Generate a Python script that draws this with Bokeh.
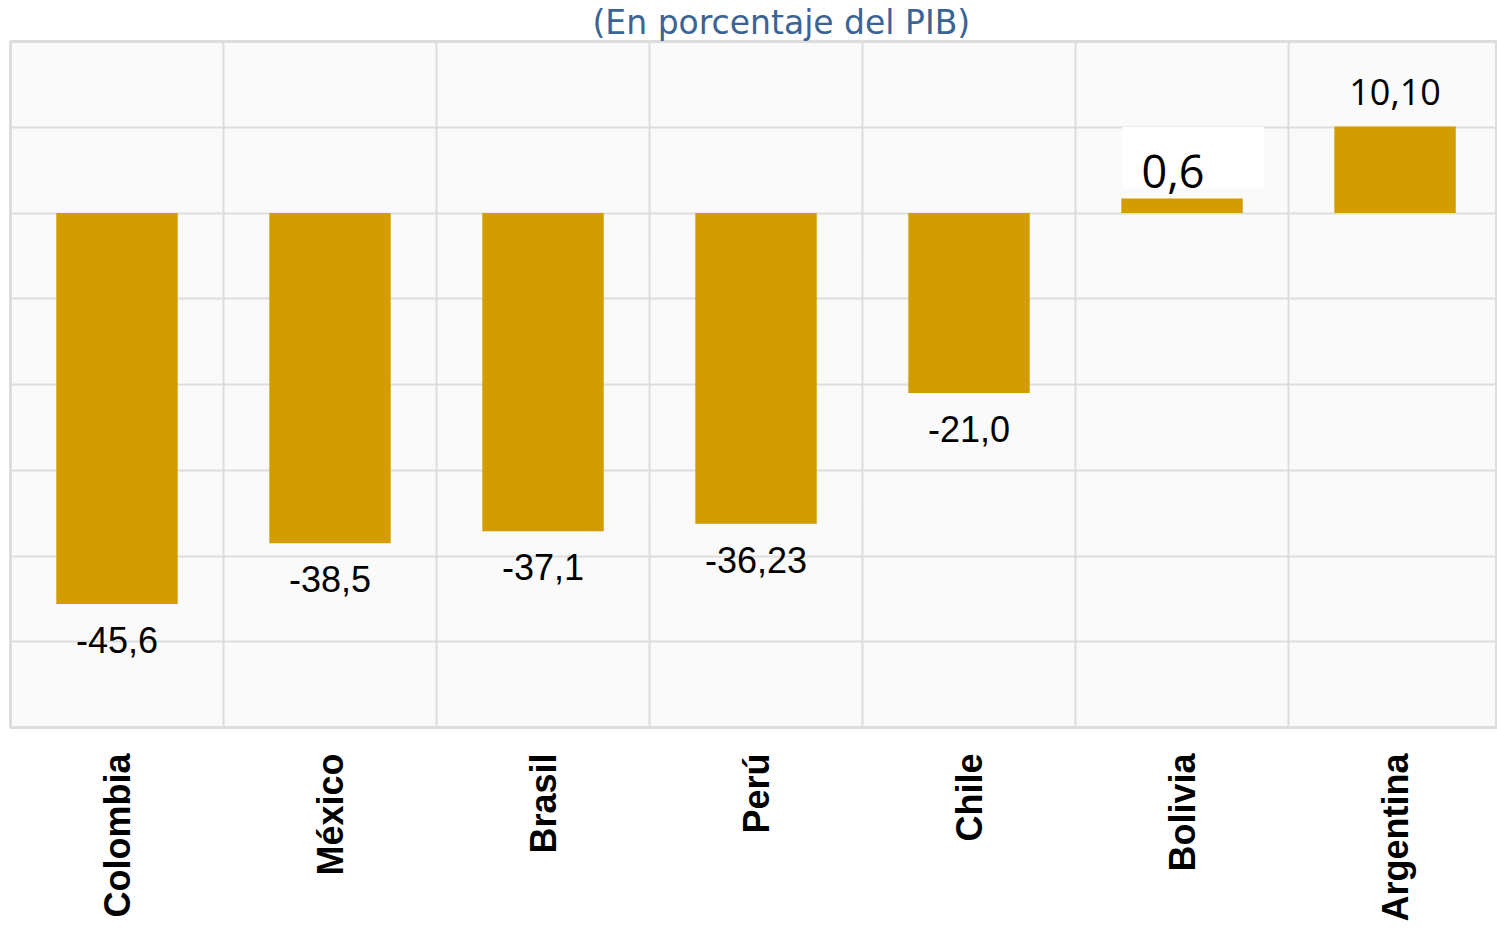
import math
import numpy as np
from bokeh.plotting import figure
from bokeh.models import ColumnDataSource, FixedTicker, Label, Range1d
from bokeh.core.properties import value
from bokeh.embed import file_html
from bokeh.resources import INLINE

# ---- data ----
countries = ["Colombia", "México", "Brasil", "Perú", "Chile", "Bolivia", "Argentina"]
values = [-45.6, -38.5, -37.1, -36.23, -21.0, 1.7, 10.10]
value_labels = ["-45,6", "-38,5", "-37,1", "-36,23", "-21,0", "0,6", "10,10"]
y_ticks = [-60, -50, -40, -30, -20, -10, 0, 10, 20]

title_text = "(En porcentaje del PIB)"
bar_color = "#d39c00"
grid_color = "#dddddd"

xc = [i + 0.5 for i in range(len(countries))]

p = figure(width=1497, height=924, output_backend="svg", toolbar_location=None,
           x_range=Range1d(0, 6.981), y_range=Range1d(-60, 20),
           min_border_left=10, min_border_right=0, min_border_top=5, min_border_bottom=0,
           background_fill_color="#fafafa", border_fill_color="white")

p.title.text = title_text
p.title.text_font = "DejaVu Sans"
p.title.text_font_size = "33px"
p.title.text_font_style = "normal"
p.title.text_color = "#3b6496"
p.title.align = "left"
p.title.offset = 582
p.title.standoff = 0

p.outline_line_color = grid_color
p.outline_line_width = 3

src = ColumnDataSource(dict(x=xc, top=values, lab=value_labels, name=countries))
p.vbar(x="x", top="top", bottom=0, width=0.57, source=src, fill_color=bar_color, line_color=None)

# negative value labels
neg_idx = [i for i, v in enumerate(values) if v < 0]
neg = ColumnDataSource(dict(x=[xc[i] for i in neg_idx], y=[values[i] for i in neg_idx],
                            lab=[value_labels[i] for i in neg_idx]))
p.text(x="x", y="y", text="lab", source=neg, text_align="center", text_baseline="middle",
       y_offset=36, text_font=value("Liberation Sans"), text_font_size="36px", text_color="black")

# Argentina label
ai = countries.index("Argentina")
p.add_layout(Label(x=xc[ai], y=values[ai], text=value_labels[ai], text_align="center",
                   text_baseline="middle", y_offset=34, text_font="Open Sans",
                   text_font_size="36px", text_color="black"))

# Bolivia label with white box
bi = countries.index("Bolivia")
p.add_layout(Label(x=xc[bi], y=values[bi], text=value_labels[bi], text_align="center",
                   text_baseline="middle", x_offset=11, y_offset=41, text_font="Open Sans",
                   text_font_size="45px", text_color="black",
                   background_fill_color="white", background_fill_alpha=1.0,
                   padding=dict(left=19, right=59, top=28, bottom=0)))

# grids
p.ygrid.ticker = FixedTicker(ticks=y_ticks)
p.ygrid.grid_line_color = grid_color
p.ygrid.grid_line_width = 2
p.xgrid.ticker = FixedTicker(ticks=list(range(len(countries) + 1)))
p.xgrid.grid_line_color = grid_color
p.xgrid.grid_line_width = 2

p.yaxis.visible = False
p.xaxis.ticker = FixedTicker(ticks=xc)
p.xaxis.major_label_overrides = {x: c for x, c in zip(xc, countries)}
p.xaxis.major_label_orientation = math.pi / 2
p.xaxis.major_label_text_font = "Liberation Sans"
p.xaxis.major_label_text_font_style = "bold"
p.xaxis.major_label_text_font_size = "36px"
p.xaxis.major_label_text_color = "black"
p.xaxis.major_label_standoff = 20
p.xaxis.axis_line_color = None
p.xaxis.major_tick_line_color = None
p.xaxis.minor_tick_line_color = None

open("out.html", "w").write(file_html(p, INLINE))
